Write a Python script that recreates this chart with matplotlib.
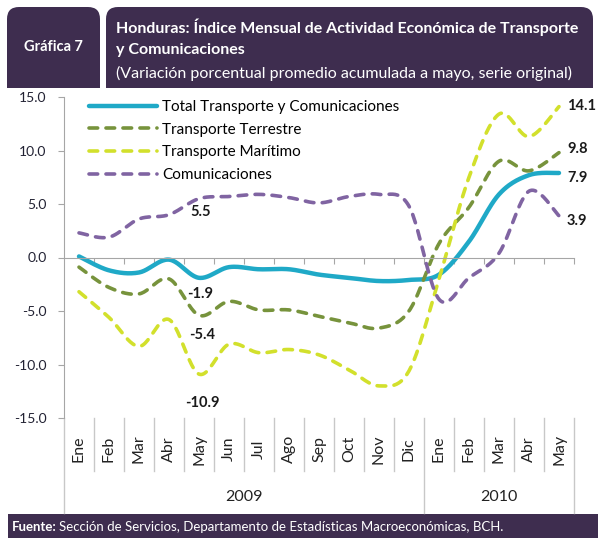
import numpy as np
import matplotlib
matplotlib.use('Agg')
import matplotlib.pyplot as plt
from matplotlib.patches import FancyBboxPatch, Rectangle
from matplotlib.lines import Line2D
from matplotlib import transforms

plt.rcParams['font.family'] = ['Lato', 'DejaVu Sans']

# data
meses = ['Ene', 'Feb', 'Mar', 'Abr', 'May', 'Jun', 'Jul', 'Ago', 'Sep', 'Oct', 'Nov', 'Dic',
         'Ene', 'Feb', 'Mar', 'Abr', 'May']
anios = ['2009', '2010']
meses_por_anio = [12, 5]

total = [0.1, -1.2, -1.4, -0.2, -1.9, -0.9, -1.1, -1.1, -1.6, -1.9, -2.2, -2.1,
         -1.6, 1.5, 5.9, 7.7, 7.9]
terrestre = [-0.9, -2.8, -3.4, -2.0, -5.4, -4.1, -4.9, -4.9, -5.5, -6.1, -6.6, -5.0,
             1.3, 4.7, 9.0, 8.1, 9.8]
maritimo = [-3.2, -5.6, -8.3, -5.8, -10.9, -8.1, -8.9, -8.6, -9.1, -10.5, -12.0, -10.6,
            -2.0, 7.5, 13.4, 11.3, 14.1]
comunicaciones = [2.3, 1.9, 3.6, 4.0, 5.5, 5.7, 5.9, 5.6, 5.1, 5.7, 5.9, 4.8,
                  -3.9, -1.9, 0.4, 6.2, 3.9]

series = [
    ('Total Transporte y Comunicaciones', total, '#1FA9C7', '-'),
    ('Transporte Terrestre', terrestre, '#77933C', '--'),
    ('Transporte Marítimo', maritimo, '#D2E02C', '--'),
    ('Comunicaciones', comunicaciones, '#8064A2', '--'),
]

# (serie, indice, desplazamiento en px, alineacion)
etiquetas = [
    (comunicaciones, 4, (2, -13), 'center'),
    (total, 4, (1, -16), 'center'),
    (terrestre, 4, (3, -20), 'center'),
    (maritimo, 4, (3, -29), 'center'),
    (maritimo, 16, (8, 1), 'left'),
    (terrestre, 16, (8, 4), 'left'),
    (total, 16, (8, -5), 'left'),
    (comunicaciones, 16, (8, -5), 'left'),
]

W, H = 598, 538
morado = '#3E2D4F'
gris = '#A6A6A6'


def suavizar(xs, ys, n=24):
    # curva suave tipo Excel (Catmull-Rom / Bezier)
    p = np.column_stack([xs, ys]).astype(float)
    out = []
    for i in range(len(p) - 1):
        p0 = p[i - 1] if i > 0 else p[i]
        p1, p2 = p[i], p[i + 1]
        p3 = p[i + 2] if i + 2 < len(p) else p[i + 1]
        b1 = p1 + (p2 - p0) / 6
        b2 = p2 - (p3 - p1) / 6
        t = np.linspace(0, 1, n, endpoint=(i == len(p) - 2))[:, None]
        out.append((1 - t) ** 3 * p1 + 3 * (1 - t) ** 2 * t * b1 + 3 * (1 - t) * t ** 2 * b2 + t ** 3 * p2)
    c = np.vstack(out)
    return c[:, 0], c[:, 1]


fig = plt.figure(figsize=(W / 100, H / 100), dpi=100)
bg = fig.add_axes([0, 0, 1, 1])
bg.set_xlim(0, W)
bg.set_ylim(H, 0)
bg.axis('off')

# encabezado
for x0, w in [(7, 93), (106, 487)]:
    bg.add_patch(FancyBboxPatch((x0, 7), w, 81, boxstyle='round,pad=0,rounding_size=12',
                                fc=morado, ec='none'))
    bg.add_patch(Rectangle((x0, 40), w, 48, fc=morado, ec='none'))
bg.text(53, 47, 'Gráfica 7', color='white', fontsize=10.5, fontweight='bold',
        ha='center', va='center')
bg.text(116, 27, 'Honduras: Índice Mensual de Actividad Económica de Transporte',
        color='white', fontsize=11.5, fontweight='bold', va='center')
bg.text(116, 50, 'y Comunicaciones', color='white', fontsize=11.5, fontweight='bold', va='center')
bg.text(116, 73, '(Variación porcentual promedio acumulada a mayo, serie original)',
        color='white', fontsize=11.5, va='center')

# pie
bg.add_patch(Rectangle((8, 514), W - 8, 24, fc=morado, ec='none'))
t1 = bg.text(12, 527, 'Fuente:', color='white', fontsize=9.5, fontweight='bold', va='center')
r = fig.canvas.get_renderer()
bb = t1.get_window_extent(renderer=r)
x_txt = bg.transData.inverted().transform((bb.x1, 0))[0]
bg.text(x_txt + 2, 527, 'Sección de Servicios, Departamento de Estadísticas Macroeconómicas, BCH.',
        color='white', fontsize=9.5, va='center')

# grafico
top, bot, left, right = 97, 418, 64, 574
ax = fig.add_axes([left / W, (H - bot) / H, (right - left) / W, (bot - top) / H])
ax.patch.set_alpha(0)
n = len(meses)
x = np.arange(n) + 0.5
ax.set_xlim(0, n)
ax.set_ylim(-15, 15)

for nombre, vals, col, ls in series:
    sx, sy = suavizar(x, vals)
    if ls == '-':
        ax.plot(sx, sy, color=col, lw=3.2, solid_capstyle='round', label=nombre)
    else:
        ax.plot(sx, sy, color=col, lw=2.6, dashes=(2.4, 2.3), dash_capstyle='round', label=nombre)

for vals, i, (dx, dy), ha in etiquetas:
    ax.annotate(f'{vals[i]:.1f}', xy=(x[i], vals[i]), xytext=(dx * 0.72, dy * 0.72),
                textcoords='offset points', ha=ha, va='center',
                fontsize=10.5, fontweight='bold', color='#1A1A1A')

for s in ['top', 'right']:
    ax.spines[s].set_visible(False)
ax.spines['left'].set_color(gris)
ax.spines['bottom'].set_color(gris)
ax.spines['bottom'].set_position(('data', 0))
ax.set_xticks(np.arange(1, n + 1))
ax.set_xticklabels([])
ax.tick_params(axis='x', length=4, color=gris, direction='out')
ax.set_yticks(np.arange(-15, 16, 5))
ax.set_yticklabels([f'{v:.1f}' for v in np.arange(-15, 16, 5)])
ax.tick_params(axis='y', length=4.5, color=gris, labelsize=10, pad=8, labelcolor='#222233')

# etiquetas de categorias
tr = transforms.blended_transform_factory(ax.transData, ax.transAxes)
alto = bot - top
for i, m in enumerate(meses):
    ax.text(x[i], (bot - 449) / alto, m, transform=tr, rotation=90, ha='center', va='center',
            fontsize=11.5, color='#222222', clip_on=False)

limites = np.cumsum([0] + meses_por_anio)
for b in range(n + 1):
    y_fin = (bot - 513) / alto if b in limites else (bot - 471) / alto
    ax.add_line(Line2D([b, b], [0, y_fin], transform=tr, color='#C8C8C8', lw=1, clip_on=False))
for a, s0, s1 in zip(anios, limites[:-1], limites[1:]):
    ax.text((s0 + s1) / 2, (bot - 497) / alto, a, transform=tr, ha='center', va='center',
            fontsize=11.5, color='#222222', clip_on=False)

ax.legend(loc='upper left', bbox_to_anchor=(89 / W, 1 - 100 / H), bbox_transform=fig.transFigure,
          frameon=False, fontsize=11, handlelength=4.45, handletextpad=0.35, labelspacing=0.57,
          borderaxespad=0, borderpad=0)

fig.savefig('out.png', dpi=100)
